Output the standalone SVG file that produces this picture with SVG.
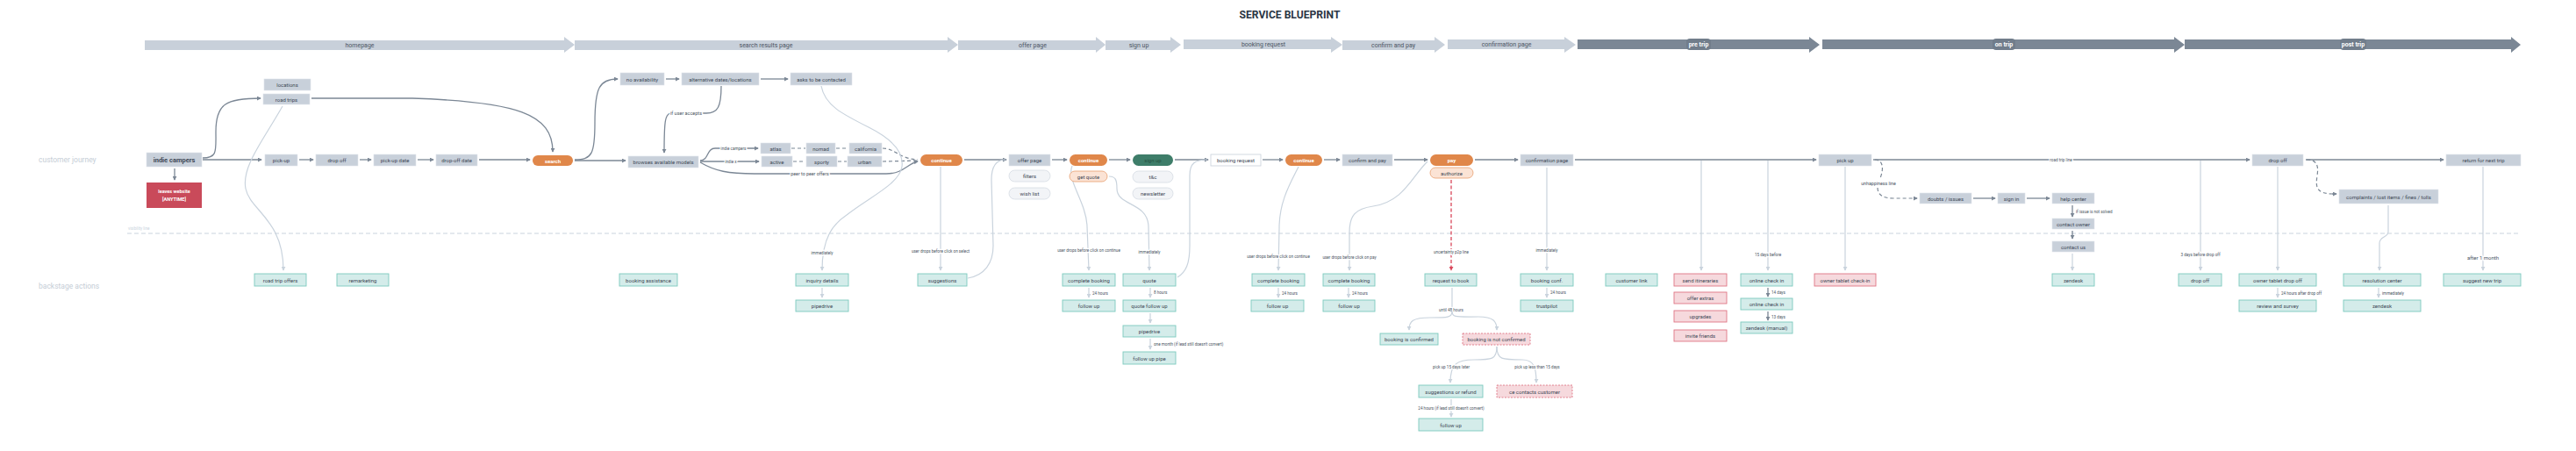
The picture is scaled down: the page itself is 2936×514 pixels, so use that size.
<svg xmlns="http://www.w3.org/2000/svg" width="2936" height="514" viewBox="0 0 2936 514">
<style>
text{font-family:Roboto,"Liberation Sans",sans-serif}
.t{font-size:6px;text-anchor:middle;dominant-baseline:central;fill:#3e4856}
.tw{fill:#fff;font-weight:bold}
.bn{fill:#c8d0da}
.bd{fill:#7b8795}
.bp{fill:#717d8b}
.bl{font-size:7px;text-anchor:middle;dominant-baseline:central;fill:#4a5462}
.bld{font-size:7px;text-anchor:middle;dominant-baseline:central;fill:#fff;font-weight:bold}
.n{fill:#c8d0da;stroke:#dfe4ea;stroke-width:0.6}
.o{fill:#e0874a}
.g{fill:#3e7d69}
.w{fill:#fff;stroke:#c8d0da;stroke-width:0.8}
.lp{fill:#f2f4f7;stroke:#d6dce3;stroke-width:0.8}
.qp{fill:#fbe3d5;stroke:#e9a070;stroke-width:0.8}
.b{fill:#d4ecea;stroke:#7ccabe;stroke-width:0.9}
.p{fill:#f6d9dd;stroke:#df7585;stroke-width:0.9}
.pd{fill:#f6d9dd;stroke:#df7585;stroke-width:0.9;stroke-dasharray:2 1.5}
.cd{fill:none;stroke:#7b8795;stroke-width:1.3;marker-end:url(#ad)}
.cdd{fill:none;stroke:#7b8795;stroke-width:1.2;stroke-dasharray:4 3}
.cl{fill:none;stroke:#c9d3dd;stroke-width:1.2;marker-end:url(#al)}
.cln{fill:none;stroke:#c9d3dd;stroke-width:1.2}
.cr{fill:none;stroke:#d9475a;stroke-width:1.3;stroke-dasharray:4 2.5;marker-end:url(#ar)}
.el{font-size:4.6px;text-anchor:middle;dominant-baseline:central;fill:#4a5462;paint-order:stroke;stroke:#fff;stroke-width:2.5px}
.ell{font-size:4.6px;dominant-baseline:central;fill:#4a5462}
.row{font-size:8.5px;fill:#c5cdd6}
</style>
<defs>
<marker id="ad" viewBox="0 0 6 6" refX="5" refY="3" markerWidth="5" markerHeight="5" markerUnits="userSpaceOnUse" orient="auto"><path d="M0,0L6,3L0,6z" fill="#7b8795"/></marker>
<marker id="al" viewBox="0 0 6 6" refX="5" refY="3" markerWidth="5" markerHeight="5" markerUnits="userSpaceOnUse" orient="auto"><path d="M0,0L6,3L0,6z" fill="#c9d3dd"/></marker>
<marker id="ar" viewBox="0 0 6 6" refX="5" refY="3" markerWidth="5" markerHeight="5" markerUnits="userSpaceOnUse" orient="auto"><path d="M0,0L6,3L0,6z" fill="#d9475a"/></marker>
</defs>
<rect width="2936" height="514" fill="#fff"/>
<text x="1470" y="16" font-size="13" font-weight="bold" fill="#2b3645" text-anchor="middle" dominant-baseline="central" textLength="115" lengthAdjust="spacingAndGlyphs">SERVICE BLUEPRINT</text>

<g id="phases">
<polygon class="bn" points="165,46 643,46 643,42 655,51 643,60 643,57 165,57"/>
<text class="bl" x="410" y="51.5">homepage</text>
<polygon class="bn" points="655,46 1080,46 1080,42 1092,51 1080,60 1080,57 655,57"/>
<text class="bl" x="873" y="51.5">search results page</text>
<polygon class="bn" points="1092,46 1249,46 1249,42 1260,51 1249,60 1249,57 1092,57"/>
<text class="bl" x="1177" y="51.5">offer page</text>
<polygon class="bn" points="1260,46 1334,46 1334,42 1346,51 1334,60 1334,57 1260,57"/>
<text class="bl" x="1298" y="51.5">sign up</text>
<polygon class="bn" points="1349,45 1517,45 1517,42 1530,51 1517,60 1517,56 1349,56"/>
<text class="bl" x="1440" y="50.5">booking request</text>
<polygon class="bn" points="1530,46 1635,46 1635,42 1647,51 1635,60 1635,57 1530,57"/>
<text class="bl" x="1588" y="51.5">confirm and pay</text>
<polygon class="bn" points="1650,45 1783,45 1783,42 1796,51 1783,60 1783,56 1650,56"/>
<text class="bl" x="1717" y="50.5">confirmation page</text>
<polygon class="bd" points="1798,45 2062,45 2062,42 2074,51 2062,60 2062,56 1798,56"/>
<rect class="bp" x="1922" y="44" width="28" height="13" rx="4"/>
<text class="bld" x="1936" y="50.5">pre trip</text>
<polygon class="bd" points="2077,45 2478,45 2478,42 2490,51 2478,60 2478,56 2077,56"/>
<rect class="bp" x="2271" y="44" width="26" height="13" rx="4"/>
<text class="bld" x="2284" y="50.5">on trip</text>
<polygon class="bd" points="2490,45 2862,45 2862,42 2873,51 2862,60 2862,56 2490,56"/>
<rect class="bp" x="2667" y="44" width="30" height="13" rx="4"/>
<text class="bld" x="2682" y="50.5">post trip</text>
</g>

<g id="rows">
<text class="row" x="44" y="185">customer journey</text>
<text class="row" x="44" y="329">backstage actions</text>
<text x="146" y="262" font-size="4.5" fill="#c9d3dd">visibility line</text>
<path d="M145,266 L2872,266" fill="none" stroke="#c9d3dd" stroke-width="1.2" stroke-dasharray="5 3"/>
</g>

<g id="connectors">
<path class="cd" d="M231,182 L298,182"/>
<path class="cd" d="M231,180 C248,180 246,172 246,150 C246,118 258,112 297,112"/>
<path class="cd" d="M199,192 L199,205"/>
<path class="cd" d="M341,182 L357,182"/>
<path class="cd" d="M410,182 L423,182"/>
<path class="cd" d="M476,182 L494,182"/>
<path class="cd" d="M546,182 L604,182"/>
<path class="cd" d="M355,112 L470,112 C590,116 630,130 630,173"/>
<path class="cd" d="M655,182 C675,182 678,175 678,140 C678,100 683,90 704,90"/>
<path class="cd" d="M655,183 L713,183"/>
<path class="cd" d="M759,90 L774,90"/>
<path class="cd" d="M867,90 L898,90"/>
<path class="cd" d="M822,98 C822,122 818,129 805,129 L765,129 C758,129 757,138 757,174"/>
<text class="el" x="782" y="129" style="font-size:5.5px">if user accepts</text>
<path class="cd" d="M798,183 C808,183 805,169 815,169 L864,169"/>
<text class="el" x="836" y="169">indie campers</text>
<path class="cd" d="M798,184 L865,184"/>
<text class="el" x="833" y="184">indie x</text>
<path class="cdd" d="M902,169 L918,169"/>
<path class="cdd" d="M953,169 L967,169"/>
<path class="cdd" d="M904,184 L918,184"/>
<path class="cdd" d="M955,184 L965,184"/>
<path class="cdd" d="M1006,169 C1020,169 1025,181 1046,182"/>
<path class="cdd" d="M1006,184 L1046,183"/>
<path class="cd" d="M798,185 C815,195 830,198 860,198 L1010,198 C1030,198 1035,186 1046,184"/>
<text class="el" x="923" y="198" style="font-size:5.3px">peer to peer offers</text>
<path class="cd" d="M1099,182 L1147,182"/>
<path class="cd" d="M1199,182 L1216,182"/>
<path class="cd" d="M1264,182 L1288,182"/>
<path class="cd" d="M1339,182 L1377,182"/>
<path class="cd" d="M1439,182 L1462,182"/>
<path class="cd" d="M1509,182 L1527,182"/>
<path class="cd" d="M1589,182 L1627,182"/>
<path class="cd" d="M1681,182 L1730,182"/>
<path class="cd" d="M1795,182 L2070,182"/>
<path class="cd" d="M2135,182 L2564,182"/>
<text class="el" x="2349" y="182">road trip line</text>
<path class="cd" d="M2628,182 L2785,182"/>
<path class="cdd" d="M2137,182 C2145,182 2148,190 2143,203"/>
<text class="el" x="2141" y="209" style="font-size:5.3px">unhappiness line</text>
<path class="cdd" d="M2140,214 C2140,222 2146,226 2158,226 L2184,226"/>
<path class="cd" d="M2182,226 L2185,226"/>
<path class="cd" d="M2249,226 L2274,226"/>
<path class="cd" d="M2310,226 L2336,226"/>
<path class="cd" d="M2362,234 L2362,247"/>
<text class="ell" x="2366" y="241">if issue is not solved</text>
<path class="cd" d="M2362,263 L2362,272"/>
<path class="cdd" d="M2629,182 C2640,182 2643,188 2641,200 C2639,214 2640,221 2660,221"/>
<path class="cd" d="M2658,221 L2663,221"/>
<path class="cd" d="M2015,328 L2015,338"/>
<text class="ell" x="2019" y="333">14 days</text>
<path class="cd" d="M2015,355 L2015,365"/>
<text class="ell" x="2019" y="361">13 days</text>

<path class="cl" d="M322,121 C300,160 275,190 280,215 C285,240 323,250 323,308"/>
<path class="cl" d="M936,98 C940,120 960,130 990,145 C1020,160 1030,175 1028,190 C1025,210 990,225 965,245 C950,255 937,270 937,308"/>
<text class="el" x="937" y="288">immediately</text>
<path class="cl" d="M937,328 L937,339"/>
<path class="cl" d="M1072,190 L1072,308"/>
<text class="el" x="1072" y="286">user drops before click on select</text>
<path class="cln" d="M1103,317 C1122,314 1132,300 1132,280 L1130,205 C1130,188 1136,182 1146,182"/>
<path class="cl" d="M1222,189 C1215,205 1238,230 1239,258 L1241,308"/>
<text class="el" x="1241" y="285">user drops before click on continue</text>
<path class="cl" d="M1241,328 L1241,339"/>
<text class="ell" x="1245" y="334">24 hours</text>
<path class="cl" d="M1264,201 C1272,201 1273,206 1273,215 C1273,235 1308,230 1309,258 L1310,308"/>
<text class="el" x="1310" y="287">immediately</text>
<path class="cln" d="M1342,316 C1352,310 1356,300 1356,280 L1356,200 C1356,186 1362,182 1376,182"/>
<path class="cl" d="M1311,328 L1311,339"/>
<text class="ell" x="1315" y="333">8 hours</text>
<path class="cl" d="M1311,357 L1311,368"/>
<path class="cl" d="M1311,386 L1311,398"/>
<text class="ell" x="1315" y="392">one month (if lead still doesn't convert)</text>
<path class="cl" d="M1480,190 C1470,210 1458,230 1458,260 L1457,308"/>
<text class="el" x="1457" y="292">user drops before click on continue</text>
<path class="cl" d="M1457,328 L1457,339"/>
<text class="ell" x="1461" y="334">24 hours</text>
<path class="cl" d="M1627,184 C1610,200 1600,230 1565,235 C1545,238 1538,245 1538,265 L1538,308"/>
<text class="el" x="1538" y="293">user drops before click on pay</text>
<path class="cl" d="M1537,328 L1537,339"/>
<text class="ell" x="1541" y="334">24 hours</text>
<path class="cr" d="M1654,205 L1654,308"/>
<text class="el" x="1654" y="287">uncertainty p2p line</text>
<path class="cln" d="M1655,328 L1655,355"/>
<text class="el" x="1654" y="353">until 48 hours</text>
<path class="cl" d="M1655,355 C1655,362 1650,362 1630,362 C1610,362 1606,366 1606,376"/>
<path class="cl" d="M1655,355 C1655,362 1660,361 1685,361 C1702,361 1706,366 1706,376"/>
<path class="cl" d="M1706,395 C1706,410 1700,410 1680,410 C1660,410 1653,415 1653,436"/>
<path class="cl" d="M1706,395 C1706,410 1712,410 1735,410 C1748,410 1751,418 1751,436"/>
<text class="el" x="1654" y="418">pick up 15 days later</text>
<text class="el" x="1752" y="418">pick up less than 15 days</text>
<path class="cl" d="M1654,455 L1654,475"/>
<text class="el" x="1654" y="465">24 hours (if lead still doesn't convert)</text>
<path class="cl" d="M1763,191 L1763,308"/>
<text class="el" x="1763" y="285">immediately</text>
<path class="cl" d="M1763,328 L1763,339"/>
<text class="ell" x="1767" y="333">24 hours</text>
<path class="cl" d="M1939,183 L1939,308"/>
<path class="cl" d="M2015,183 L2015,308"/>
<text class="el" x="2015" y="290">15 days before</text>
<path class="cl" d="M2103,190 L2103,308"/>
<path class="cl" d="M2362,289 L2362,308"/>
<path class="cl" d="M2508,183 L2508,308"/>
<text class="el" x="2508" y="290">3 days before drop off</text>
<path class="cl" d="M2596,190 L2596,308"/>
<path class="cl" d="M2596,328 L2596,339"/>
<text class="ell" x="2600" y="334">24 hours after drop off</text>
<path class="cl" d="M2722,234 L2722,264 C2722,271 2712,269 2712,277 L2712,308"/>
<path class="cl" d="M2711,328 L2711,339"/>
<text class="ell" x="2715" y="334">immediately</text>
<path class="cl" d="M2830,190 L2830,308"/>
<text class="el" x="2830" y="293" style="font-size:6px">after 1 month</text>
</g>

<g id="n-indie"><rect class="n" x="167" y="174" width="63" height="16"/><text class="t" x="198.5" y="182" style="font-size:7.5px;font-weight:bold">indie campers</text></g>
<g id="n-leaves"><rect x="167" y="208" width="63" height="29" fill="#c94a5a"/><text class="t tw" x="198.5" y="218" style="font-size:5.5px">leaves website</text><text class="t tw" x="198.5" y="227" style="font-size:5.5px">[ANYTIME]</text></g>
<g id="n-locations"><rect class="n" x="301" y="90" width="53" height="13"/><text class="t" x="327.5" y="96.5">locations</text></g>
<g id="n-roadtrips"><rect class="n" x="300" y="107" width="53" height="12"/><text class="t" x="326.5" y="113">road trips</text></g>
<g id="n-pickup"><rect class="n" x="302" y="176" width="37" height="13"/><text class="t" x="320.5" y="182.5">pick-up</text></g>
<g id="n-dropoff"><rect class="n" x="360" y="176" width="48" height="13"/><text class="t" x="384" y="182.5">drop off</text></g>
<g id="n-pickupdate"><rect class="n" x="426" y="176" width="48" height="13"/><text class="t" x="450" y="182.5">pick-up date</text></g>
<g id="n-dropoffdate"><rect class="n" x="497" y="176" width="47" height="13"/><text class="t" x="520.5" y="182.5">drop-off date</text></g>
<g id="n-search"><rect class="o" x="607" y="177" width="46" height="12" rx="6"/><text class="t tw" x="630" y="183">search</text></g>
<g id="n-noavail"><rect class="n" x="707" y="83" width="50" height="14"/><text class="t" x="732" y="90">no availability</text></g>
<g id="n-altdates"><rect class="n" x="777" y="83" width="88" height="14"/><text class="t" x="821" y="90">alternative dates/locations</text></g>
<g id="n-asks"><rect class="n" x="901" y="83" width="70" height="14"/><text class="t" x="936" y="90">asks to be contacted</text></g>
<g id="n-browses"><rect class="n" x="716" y="178" width="80" height="13"/><text class="t" x="756" y="184.5">browses available models</text></g>
<g id="n-atlas"><rect class="n" x="867" y="163" width="34" height="12"/><text class="t" x="884" y="169">atlas</text></g>
<g id="n-nomad"><rect class="n" x="919" y="163" width="33" height="12"/><text class="t" x="935.5" y="169">nomad</text></g>
<g id="n-california"><rect class="n" x="968" y="163" width="37" height="12"/><text class="t" x="986.5" y="169">california</text></g>
<g id="n-active"><rect class="n" x="868" y="178" width="35" height="12"/><text class="t" x="885.5" y="184">active</text></g>
<g id="n-sporty"><rect class="n" x="919" y="178" width="35" height="12"/><text class="t" x="936.5" y="184">sporty</text></g>
<g id="n-urban"><rect class="n" x="966" y="178" width="39" height="12"/><text class="t" x="985.5" y="184">urban</text></g>
<g id="n-continue1"><rect class="o" x="1049" y="176" width="48" height="13" rx="6.5"/><text class="t tw" x="1073" y="182.5">continue</text></g>
<g id="n-offerpage"><rect class="n" x="1150" y="176" width="47" height="13"/><text class="t" x="1173.5" y="182.5">offer page</text></g>
<g id="n-filters"><rect class="lp" x="1150" y="194" width="47" height="13" rx="6.5"/><text class="t" x="1173.5" y="200.5">filters</text></g>
<g id="n-wishlist"><rect class="lp" x="1150" y="214" width="47" height="13" rx="6.5"/><text class="t" x="1173.5" y="220.5">wish list</text></g>
<g id="n-continue2"><rect class="o" x="1219" y="176" width="43" height="13" rx="6.5"/><text class="t tw" x="1240.5" y="182.5">continue</text></g>
<g id="n-getquote"><rect class="qp" x="1219" y="195" width="43" height="12" rx="6"/><text class="t" x="1240.5" y="201">get quote</text></g>
<g id="n-signup"><rect class="g" x="1291" y="176" width="46" height="13" rx="6.5"/><text class="t" x="1314" y="182.5" style="fill:#24503f">sign up</text></g>
<g id="n-tc"><rect class="lp" x="1291" y="195" width="46" height="13" rx="6.5"/><text class="t" x="1314" y="201.5">t&amp;c</text></g>
<g id="n-newsletter"><rect class="lp" x="1291" y="214" width="46" height="13" rx="6.5"/><text class="t" x="1314" y="220.5">newsletter</text></g>
<g id="n-bookingrequest"><rect class="w" x="1380" y="176" width="57" height="13"/><text class="t" x="1408.5" y="182.5">booking request</text></g>
<g id="n-continue3"><rect class="o" x="1465" y="176" width="42" height="13" rx="6.5"/><text class="t tw" x="1486" y="182.5">continue</text></g>
<g id="n-confirmpay"><rect class="n" x="1530" y="176" width="57" height="13"/><text class="t" x="1558.5" y="182.5">confirm and pay</text></g>
<g id="n-pay"><rect class="o" x="1630" y="176" width="49" height="13" rx="6.5"/><text class="t tw" x="1654.5" y="182.5">pay</text></g>
<g id="n-authorize"><rect class="qp" x="1630" y="191" width="49" height="12" rx="6"/><text class="t" x="1654.5" y="197">authorize</text></g>
<g id="n-confpage"><rect class="n" x="1733" y="176" width="60" height="13"/><text class="t" x="1763" y="182.5">confirmation page</text></g>
<g id="n-pickup2"><rect class="n" x="2073" y="176" width="60" height="13"/><text class="t" x="2103" y="182.5">pick up</text></g>
<g id="n-doubts"><rect class="n" x="2188" y="220" width="59" height="12"/><text class="t" x="2217.5" y="226">doubts / issues</text></g>
<g id="n-signin"><rect class="n" x="2277" y="220" width="31" height="12"/><text class="t" x="2292.5" y="226">sign in</text></g>
<g id="n-helpcenter"><rect class="n" x="2339" y="220" width="48" height="12"/><text class="t" x="2363" y="226">help center</text></g>
<g id="n-contactowner"><rect class="n" x="2339" y="249" width="48" height="12"/><text class="t" x="2363" y="255">contact owner</text></g>
<g id="n-contactus"><rect class="n" x="2339" y="275" width="48" height="12"/><text class="t" x="2363" y="281">contact us</text></g>
<g id="n-dropoff2"><rect class="n" x="2567" y="176" width="58" height="13"/><text class="t" x="2596" y="182.5">drop off</text></g>
<g id="n-complaints"><rect class="n" x="2666" y="216" width="113" height="16"/><text class="t" x="2722.5" y="224">complaints / lost items / fines / tolls</text></g>
<g id="n-returntrip"><rect class="n" x="2788" y="176" width="85" height="13"/><text class="t" x="2830.5" y="182.5">return for next trip</text></g>

<g id="b-roadtripoffers"><rect class="b" x="290" y="312" width="59" height="14"/><text class="t" x="319.5" y="319">road trip offers</text></g>
<g id="b-remarketing"><rect class="b" x="384" y="312" width="59" height="14"/><text class="t" x="413.5" y="319">remarketing</text></g>
<g id="b-bookingassist"><rect class="b" x="706" y="312" width="66" height="14"/><text class="t" x="739" y="319">booking assistance</text></g>
<g id="b-inquiry"><rect class="b" x="907" y="312" width="60" height="14"/><text class="t" x="937" y="319">inquiry details</text></g>
<g id="b-pipedrive1"><rect class="b" x="907" y="342" width="60" height="13"/><text class="t" x="937" y="348.5">pipedrive</text></g>
<g id="b-suggestions"><rect class="b" x="1046" y="312" width="56" height="14"/><text class="t" x="1074" y="319">suggestions</text></g>
<g id="b-complete1"><rect class="b" x="1211" y="312" width="60" height="14"/><text class="t" x="1241" y="319">complete booking</text></g>
<g id="b-followup1"><rect class="b" x="1211" y="342" width="60" height="13"/><text class="t" x="1241" y="348.5">follow up</text></g>
<g id="b-quote"><rect class="b" x="1280" y="312" width="60" height="14"/><text class="t" x="1310" y="319">quote</text></g>
<g id="b-quotefollow"><rect class="b" x="1280" y="342" width="60" height="13"/><text class="t" x="1310" y="348.5">quote follow up</text></g>
<g id="b-pipedrive2"><rect class="b" x="1280" y="371" width="60" height="13"/><text class="t" x="1310" y="377.5">pipedrive</text></g>
<g id="b-followpipe"><rect class="b" x="1280" y="401" width="60" height="14"/><text class="t" x="1310" y="408">follow up pipe</text></g>
<g id="b-complete2"><rect class="b" x="1427" y="312" width="60" height="14"/><text class="t" x="1457" y="319">complete booking</text></g>
<g id="b-followup2"><rect class="b" x="1426" y="342" width="60" height="13"/><text class="t" x="1456" y="348.5">follow up</text></g>
<g id="b-complete3"><rect class="b" x="1508" y="312" width="59" height="14"/><text class="t" x="1537.5" y="319">complete booking</text></g>
<g id="b-followup3"><rect class="b" x="1508" y="342" width="59" height="13"/><text class="t" x="1537.5" y="348.5">follow up</text></g>
<g id="b-requestbook"><rect class="b" x="1624" y="312" width="59" height="14"/><text class="t" x="1653.5" y="319">request to book</text></g>
<g id="b-confirmed"><rect class="b" x="1573" y="380" width="66" height="13"/><text class="t" x="1606" y="386.5">booking is confirmed</text></g>
<g id="b-notconfirmed"><rect class="pd" x="1667" y="380" width="77" height="13"/><text class="t" x="1705.5" y="386.5">booking is not confirmed</text></g>
<g id="b-suggestrefund"><rect class="b" x="1617" y="439" width="73" height="14"/><text class="t" x="1653.5" y="446">suggestions or refund</text></g>
<g id="b-cecontacts"><rect class="pd" x="1706" y="439" width="86" height="14"/><text class="t" x="1749" y="446">ce contacts customer</text></g>
<g id="b-followup4"><rect class="b" x="1617" y="477" width="73" height="14"/><text class="t" x="1653.5" y="484">follow up</text></g>
<g id="b-bookingconf"><rect class="b" x="1733" y="312" width="60" height="14"/><text class="t" x="1763" y="319">booking conf.</text></g>
<g id="b-trustpilot"><rect class="b" x="1733" y="342" width="60" height="13"/><text class="t" x="1763" y="348.5">trustpilot</text></g>
<g id="b-customerlink"><rect class="b" x="1830" y="312" width="59" height="14"/><text class="t" x="1859.5" y="319">customer link</text></g>
<g id="b-itineraries"><rect class="p" x="1908" y="312" width="60" height="14"/><text class="t" x="1938" y="319">send itineraries</text></g>
<g id="b-extras"><rect class="p" x="1908" y="333" width="60" height="13"/><text class="t" x="1938" y="339.5">offer extras</text></g>
<g id="b-upgrades"><rect class="p" x="1908" y="354" width="60" height="13"/><text class="t" x="1938" y="360.5">upgrades</text></g>
<g id="b-invite"><rect class="p" x="1908" y="376" width="60" height="13"/><text class="t" x="1938" y="382.5">invite friends</text></g>
<g id="b-checkin1"><rect class="b" x="1984" y="312" width="59" height="14"/><text class="t" x="2013.5" y="319">online check in</text></g>
<g id="b-checkin2"><rect class="b" x="1984" y="340" width="59" height="13"/><text class="t" x="2013.5" y="346.5">online check in</text></g>
<g id="b-zendeskmanual"><rect class="b" x="1984" y="367" width="59" height="13"/><text class="t" x="2013.5" y="373.5">zendesk (manual)</text></g>
<g id="b-tabletcheckin"><rect class="p" x="2068" y="312" width="70" height="14"/><text class="t" x="2103" y="319">owner tablet check-in</text></g>
<g id="b-zendesk1"><rect class="b" x="2339" y="312" width="48" height="14"/><text class="t" x="2363" y="319">zendesk</text></g>
<g id="b-dropoff"><rect class="b" x="2483" y="312" width="49" height="14"/><text class="t" x="2507.5" y="319">drop off</text></g>
<g id="b-tabletdropoff"><rect class="b" x="2552" y="312" width="88" height="14"/><text class="t" x="2596" y="319">owner tablet drop off</text></g>
<g id="b-review"><rect class="b" x="2552" y="342" width="88" height="13"/><text class="t" x="2596" y="348.5">review and survey</text></g>
<g id="b-resolution"><rect class="b" x="2671" y="312" width="88" height="14"/><text class="t" x="2715" y="319">resolution center</text></g>
<g id="b-zendesk2"><rect class="b" x="2671" y="342" width="88" height="13"/><text class="t" x="2715" y="348.5">zendesk</text></g>
<g id="b-suggesttrip"><rect class="b" x="2785" y="312" width="88" height="14"/><text class="t" x="2829" y="319">suggest new trip</text></g>
</svg>
